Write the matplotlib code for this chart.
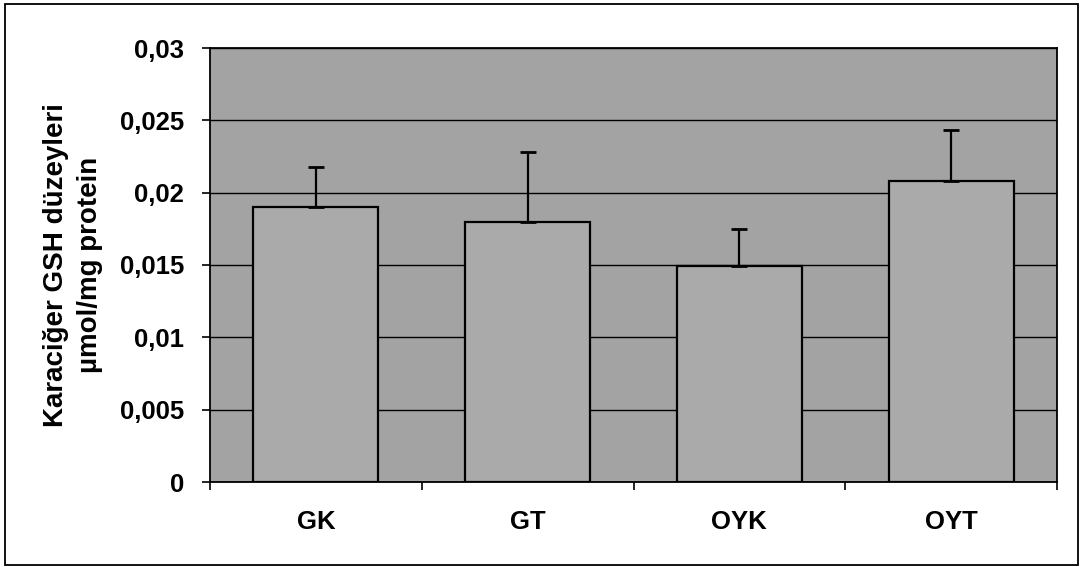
import matplotlib
matplotlib.use("Agg")
import matplotlib.pyplot as plt
from matplotlib.patches import Rectangle
from matplotlib.ticker import FixedLocator

categories = ["GK", "GT", "OYK", "OYT"]
values = [0.0190, 0.0180, 0.0149, 0.0208]
errors = [0.0028, 0.0048, 0.0026, 0.0035]
yticks = [0, 0.005, 0.01, 0.015, 0.02, 0.025, 0.03]
ytick_labels = ["0", "0,005", "0,01", "0,015", "0,02", "0,025", "0,03"]
ylabel = "Karaciğer GSH düzeyleri\nµmol/mg protein"

plt.rcParams['font.family'] = ['Liberation Sans', 'DejaVu Sans']

W, H = 1082, 567
fig = plt.figure(figsize=(W / 100, H / 100), dpi=100)
fig.patch.set_facecolor("white")

# outer chart border
fig.patches.append(Rectangle((5 / W, 2 / H), (1078 - 5) / W, (563 - 2) / H,
                             transform=fig.transFigure, fill=False,
                             edgecolor="black", linewidth=1.3))

ax = fig.add_axes([210 / W, 1 - 482 / H, 847 / W, (482 - 48) / H])
ax.set_facecolor("#a3a3a3")

x = list(range(len(categories)))
ax.bar(x, values, width=0.59, color="#aaaaaa", edgecolor="black",
       linewidth=1.6, zorder=3)
ax.errorbar(x, values, yerr=[[0] * len(errors), errors], fmt="none",
            ecolor="black", elinewidth=1.6, capsize=6, capthick=2.0, zorder=4)

ax.set_xlim(-0.5, len(categories) - 0.5)
ax.set_ylim(0, 0.03)
ax.yaxis.set_major_locator(FixedLocator(yticks))
ax.set_yticklabels(ytick_labels)
ax.grid(axis="y", color="black", linewidth=1.0, zorder=1)
ax.set_axisbelow(True)

ax.set_xticks(x)
ax.set_xticklabels(categories)
ax.set_xticks([i + 0.5 for i in range(-1, len(categories))], minor=True)
ax.tick_params(axis="x", which="major", length=0, pad=20, labelsize=18.5)
ax.tick_params(axis="x", which="minor", length=6, width=1.2, direction="out")
ax.tick_params(axis="y", length=5.5, width=1.2, direction="out", labelsize=18.5, pad=13)
for lab in ax.get_xticklabels() + ax.get_yticklabels():
    lab.set_fontweight("bold")

for s in ax.spines.values():
    s.set_color("black")
    s.set_linewidth(1.3)

ax.set_ylabel(ylabel, fontsize=20, fontweight="bold", labelpad=12,
              linespacing=1.4)

fig.savefig("out.png", dpi=100, facecolor="white")
